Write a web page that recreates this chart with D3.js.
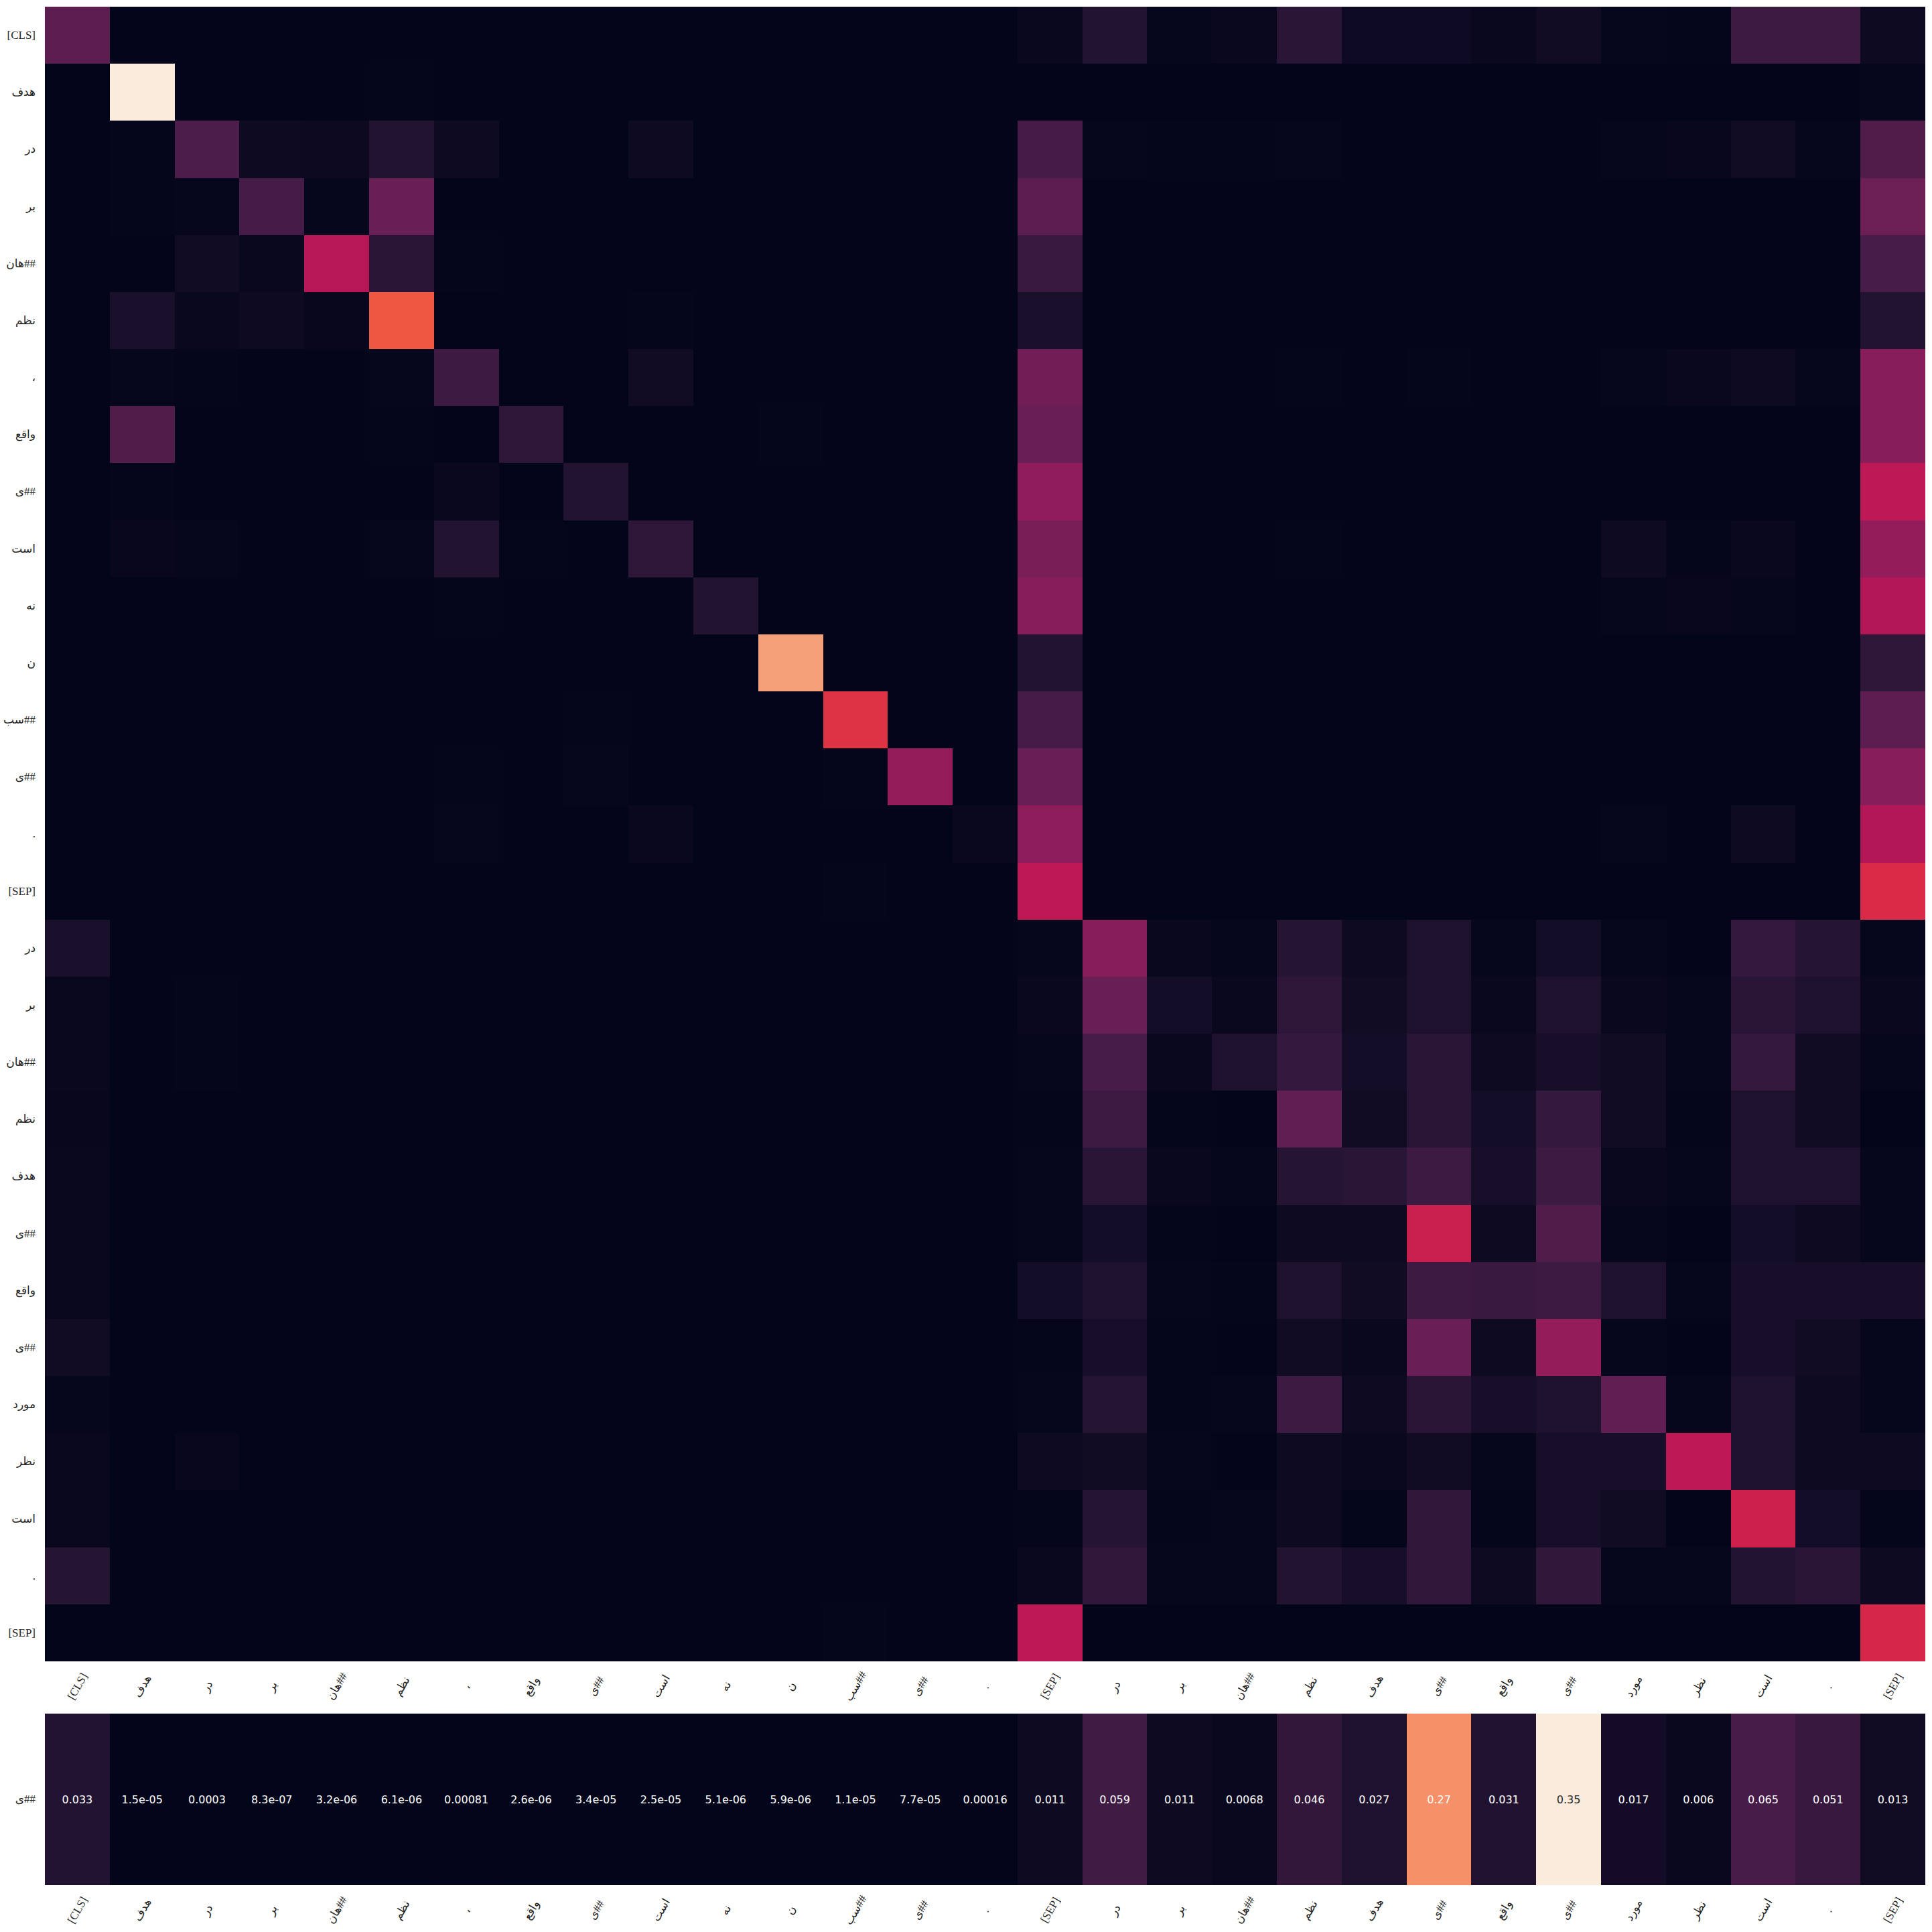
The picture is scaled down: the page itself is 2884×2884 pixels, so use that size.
<!DOCTYPE html>
<html><head><meta charset="utf-8">
<script src="https://cdn.jsdelivr.net/npm/d3@7"></script>
<style>body{margin:0;background:#fff}</style>
</head><body>
<svg id="chart" width="2884" height="2884"></svg>
<script>
// ---------------- data ----------------
const tokens = ["[CLS]","هدف","در","بر","##هان","نظم","،","واقع","##ی","است","نه","ن","##سب","##ی",".","[SEP]",
  "در","بر","##هان","نظم","هدف","##ی","واقع","##ی","مورد","نظر","است",".","[SEP]"];
const queryToken = ["##ی"];

// attention matrix (row = query token, col = key token), relative to the brightest cell
const attention = [
 [0.24,0,0,0,0,0,0,0,0,0,0,0,0,0,0, 0.02,0.09,0.01,0.02,0.11,0.035,0.035,0.02,0.04,0.01,0.005,0.16,0.16,0.03],
 [0,1,0,0,0,0.005,0,0,0,0,0,0,0,0,0, 0,0,0,0,0,0,0,0,0,0,0,0,0,0.01],
 [0,0.005,0.2,0.03,0.025,0.09,0.03,0,0,0.03,0,0,0,0,0, 0.18,0.01,0.005,0.005,0.01,0,0,0,0,0.01,0.015,0.04,0.01,0.21],
 [0,0.005,0.01,0.18,0.01,0.27,0,0,0,0,0,0,0,0,0, 0.24,0,0,0,0,0,0,0,0,0,0,0,0,0.28],
 [0,0,0.04,0.02,0.45,0.11,0.005,0,0,0,0,0,0,0,0, 0.15,0,0,0,0,0,0,0,0,0,0,0,0,0.19],
 [0,0.07,0.02,0.03,0.015,0.65,0,0,0,0.005,0,0,0,0,0, 0.07,0,0,0,0,0,0,0,0,0,0,0,0,0.09],
 [0,0.01,0.005,0,0,0.01,0.16,0,0,0.04,0,0,0,0,0, 0.29,0,0,0,0.005,0,0.005,0,0,0.01,0.02,0.03,0.01,0.34],
 [0,0.21,0,0,0,0.005,0,0.12,0,0,0,0.005,0,0,0, 0.27,0,0,0,0,0,0,0,0,0,0,0,0,0.34],
 [0,0.005,0,0,0,0,0.02,0,0.09,0,0,0,0,0,0, 0.36,0,0,0,0,0,0,0,0,0,0,0,0,0.47],
 [0,0.015,0.01,0,0,0.01,0.09,0.005,0,0.12,0,0,0,0,0, 0.31,0,0,0,0.005,0,0,0,0,0.03,0.005,0.02,0,0.37],
 [0,0,0,0,0,0,0.005,0,0,0,0.09,0,0,0,0, 0.34,0,0,0,0,0,0,0,0,0.01,0.015,0.01,0,0.44],
 [0,0,0,0,0,0,0,0,0,0,0,0.81,0,0,0, 0.09,0,0,0,0,0,0,0,0,0,0,0,0,0.12],
 [0,0,0,0,0,0,0,0,0.005,0,0,0,0.57,0,0, 0.18,0,0,0,0,0,0,0,0,0,0,0,0,0.24],
 [0,0,0,0,0,0,0.005,0,0.01,0,0,0,0.005,0.37,0, 0.27,0,0,0,0,0,0,0,0,0,0,0,0,0.34],
 [0,0,0,0,0,0,0.01,0,0,0.02,0,0,0,0,0.02, 0.35,0,0,0,0,0,0,0,0,0.01,0,0.03,0,0.44],
 [0,0,0,0,0,0,0,0,0,0,0,0,0.005,0,0, 0.47,0,0,0,0,0,0,0,0,0,0,0,0,0.55],
 [0.07,0,0,0,0,0,0,0,0,0,0,0,0,0,0, 0.01,0.34,0.02,0.01,0.1,0.03,0.08,0.01,0.05,0.01,0,0.14,0.1,0.01],
 [0.02,0,0.005,0,0,0,0,0,0,0,0,0,0,0,0, 0.02,0.27,0.05,0.02,0.12,0.04,0.08,0.02,0.08,0.02,0.01,0.11,0.08,0.02],
 [0.02,0,0.005,0,0,0,0,0,0,0,0,0,0,0,0, 0.01,0.19,0.02,0.08,0.14,0.05,0.11,0.03,0.06,0.04,0.01,0.14,0.04,0.01],
 [0.015,0,0,0,0,0,0,0,0,0,0,0,0,0,0, 0.005,0.16,0.005,0,0.25,0.04,0.11,0.05,0.14,0.04,0.005,0.08,0.04,0],
 [0.02,0,0,0,0,0,0,0,0,0,0,0,0,0,0, 0.01,0.11,0.02,0.01,0.1,0.11,0.16,0.06,0.16,0.02,0.01,0.08,0.08,0.01],
 [0.02,0,0,0,0,0,0,0,0,0,0,0,0,0,0, 0.01,0.05,0.005,0,0.03,0.03,0.5,0.03,0.21,0.01,0,0.05,0.03,0.01],
 [0.02,0,0,0,0,0,0,0,0,0,0,0,0,0,0, 0.05,0.08,0.01,0.005,0.08,0.04,0.16,0.15,0.16,0.08,0.01,0.06,0.06,0.06],
 [0.04,0,0,0,0,0,0,0,0,0,0,0,0,0,0, 0.005,0.06,0.005,0,0.04,0.02,0.27,0.03,0.37,0.01,0,0.06,0.04,0.01],
 [0.01,0,0,0,0,0,0,0,0,0,0,0,0,0,0, 0.01,0.1,0.005,0.01,0.16,0.03,0.11,0.06,0.08,0.25,0.01,0.08,0.03,0.01],
 [0.02,0,0.015,0,0,0,0,0,0,0,0,0,0,0,0, 0.03,0.04,0.01,0,0.03,0.02,0.04,0.01,0.06,0.06,0.47,0.08,0.03,0.03],
 [0.02,0,0,0,0,0,0,0,0,0,0,0,0,0,0, 0.005,0.1,0.005,0.01,0.03,0.005,0.13,0.005,0.06,0.04,0,0.51,0.05,0.005],
 [0.1,0,0,0,0,0,0,0,0,0,0,0,0,0,0, 0.02,0.13,0.01,0.01,0.09,0.06,0.13,0.03,0.13,0.01,0.01,0.09,0.11,0.03],
 [0,0,0,0,0,0,0,0,0,0,0,0,0.005,0,0, 0.47,0,0,0,0,0,0,0,0,0,0,0,0,0.54]
];

// attention of the query token "##ی" over all tokens (annotated)
const queryAttention = [0.033,1.5e-05,0.0003,8.3e-07,3.2e-06,6.1e-06,0.00081,2.6e-06,3.4e-05,2.5e-05,5.1e-06,5.9e-06,
  1.1e-05,7.7e-05,0.00016,0.011,0.059,0.011,0.0068,0.046,0.027,0.27,0.031,0.35,0.017,0.006,0.065,0.051,0.013];

// rocket colormap samples
const rocketStops = ['#03051a','#221331','#451c47','#691f55','#921c5b','#b91657','#d92847','#ed503e','#f47d57','#f6a47c','#f7c9aa','#faebdd'];

// ---------------- drawing ----------------
const svg = d3.select('#chart');
const L = 67, R = 2874, T = 10, B = 2480;
const T2 = 2558, B2 = 2814;

const rocket = d3.scaleLinear()
  .domain(rocketStops.map((_, i) => i / (rocketStops.length - 1)))
  .range(rocketStops).interpolate(d3.interpolateRgb).clamp(true);

const idx = d3.range(tokens.length);
const x = d3.scaleBand().domain(idx).range([L, R]).padding(0);
const y = d3.scaleBand().domain(idx).range([T, B]).padding(0);
const y2 = d3.scaleBand().domain([0]).range([T2, B2]).padding(0);

const cMain = d3.scaleLinear().domain([0, d3.max(attention.flat())]).range([0, 1]);
const cQuery = d3.scaleLinear().domain([d3.min(queryAttention), d3.max(queryAttention)]).range([0, 1]);

const label = t => /[\u0600-\u06FF]/.test(t) ? '\u200F' + t : t;
const labelFont = "'Liberation Serif', 'DejaVu Sans', serif";

// cell edges snapped to whole pixels so neighbouring cells meet without seams
const x0 = i => Math.round(x(i));
const x1 = i => Math.round(x(i) + x.bandwidth());
const yy0 = i => Math.round(y(i));
const yy1 = i => Math.round(y(i) + y.bandwidth());

// main heatmap
const cells = [];
attention.forEach((row, r) => row.forEach((v, c) => cells.push({r, c, v})));
svg.append('g').attr('shape-rendering', 'crispEdges')
  .selectAll('rect').data(cells).join('rect')
  .attr('x', d => x0(d.c)).attr('y', d => yy0(d.r))
  .attr('width', d => x1(d.c) - x0(d.c)).attr('height', d => yy1(d.r) - yy0(d.r))
  .attr('fill', d => rocket(cMain(d.v)));

// query heatmap
svg.append('g').attr('shape-rendering', 'crispEdges')
  .selectAll('rect').data(queryAttention.map((v, c) => ({c, v}))).join('rect')
  .attr('x', d => x0(d.c)).attr('y', y2(0))
  .attr('width', d => x1(d.c) - x0(d.c)).attr('height', y2.bandwidth())
  .attr('fill', d => rocket(cQuery(d.v)));

// annotations
function fmt(v) {
  if (v !== 0 && Math.abs(v) < 1e-4) {
    let [m, e] = v.toExponential(1).split('e');
    m = m.replace(/\.0$/, '');
    const sign = e[0] === '-' ? '-' : '+';
    const digits = e.replace(/^[+-]/, '').padStart(2, '0');
    return m + 'e' + sign + digits;
  }
  return d3.format('.2~g')(v);
}
function textColor(col) {
  const c = d3.rgb(col);
  const lin = u => { u /= 255; return u <= 0.03928 ? u / 12.92 : Math.pow((u + 0.055) / 1.055, 2.4); };
  const lum = 0.2126 * lin(c.r) + 0.7152 * lin(c.g) + 0.0722 * lin(c.b);
  return lum > 0.408 ? '#262626' : '#ffffff';
}
svg.append('g').selectAll('text').data(queryAttention.map((v, c) => ({c, v}))).join('text')
  .attr('x', d => x(d.c) + x.bandwidth() / 2)
  .attr('y', y2(0) + y2.bandwidth() / 2)
  .attr('text-anchor', 'middle').attr('dy', '0.36em')
  .attr('font-family', "'DejaVu Sans', sans-serif").attr('font-size', 16)
  .attr('fill', d => textColor(rocket(cQuery(d.v))))
  .text(d => fmt(d.v));

// axes
function styleY(g) {
  g.select('.domain').remove();
  g.selectAll('.tick line').remove();
  g.selectAll('.tick text').attr('font-family', labelFont).attr('font-size', 17).attr('fill', '#262626');
}
function styleX(g, ty) {
  g.select('.domain').remove();
  g.selectAll('.tick line').remove();
  g.selectAll('.tick text')
    .attr('font-family', labelFont).attr('font-size', 17).attr('fill', '#262626')
    .attr('y', 0).attr('dy', '0.35em').attr('text-anchor', 'middle')
    .attr('transform', `translate(0,${ty}) rotate(-60)`);
}

svg.append('g').attr('transform', `translate(${L},0)`)
  .call(d3.axisLeft(y).tickSize(0).tickPadding(14).tickFormat(i => label(tokens[i])))
  .call(styleY);
svg.append('g').attr('transform', `translate(${L},0)`)
  .call(d3.axisLeft(y2).tickSize(0).tickPadding(14).tickFormat(i => label(queryToken[i])))
  .call(styleY);
svg.append('g').attr('transform', `translate(0,${B})`)
  .call(d3.axisBottom(x).tickSize(0).tickFormat(i => label(tokens[i])))
  .call(g => styleX(g, 37));
svg.append('g').attr('transform', `translate(0,${B2})`)
  .call(d3.axisBottom(x).tickSize(0).tickFormat(i => label(tokens[i])))
  .call(g => styleX(g, 37));
</script>
</body></html>
